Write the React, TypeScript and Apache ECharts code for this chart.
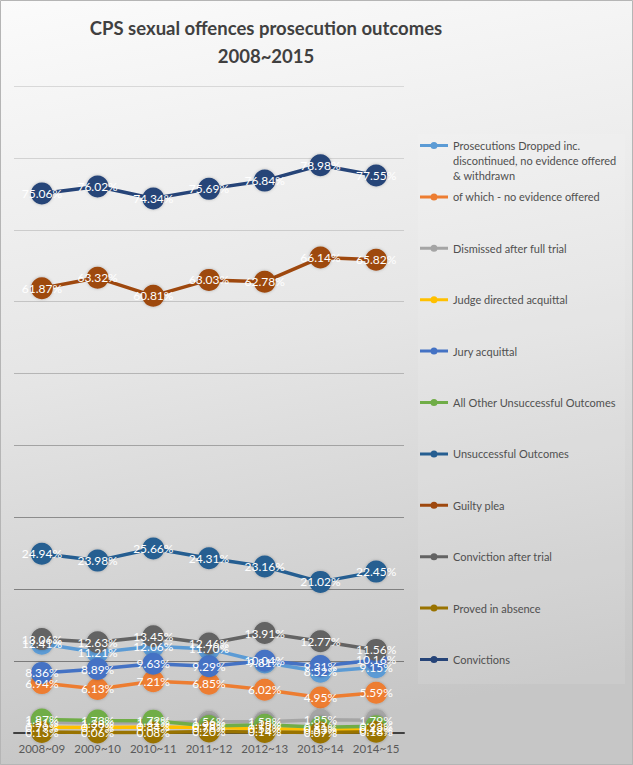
import React, { useEffect, useRef } from "react";
import * as echarts from "echarts";

const categories = ["2008~09", "2009~10", "2010~11", "2011~12", "2012~13", "2013~14", "2014~15"];

const prosecutionsDropped = [12.41, 11.21, 12.06, 11.7, 9.81, 8.52, 9.15];
const noEvidenceOffered = [6.94, 6.13, 7.21, 6.85, 6.02, 4.95, 5.59];
const dismissedAfterTrial = [1.51, 1.38, 1.41, 1.56, 1.58, 1.85, 1.79];
const judgeDirectedAcquittal = [0.79, 0.77, 0.84, 0.78, 0.58, 0.53, 0.42];
const juryAcquittal = [8.36, 8.89, 9.63, 9.29, 10.04, 9.31, 10.16];
const allOtherUnsuccessful = [1.87, 1.73, 1.72, 0.98, 1.15, 0.81, 0.93];
const unsuccessfulOutcomes = [24.94, 23.98, 25.66, 24.31, 23.16, 21.02, 22.45];
const guiltyPlea = [61.87, 63.32, 60.81, 63.03, 62.78, 66.14, 65.82];
const convictionAfterTrial = [13.06, 12.63, 13.45, 12.46, 13.91, 12.77, 11.56];
const provedInAbsence = [0.13, 0.06, 0.08, 0.2, 0.14, 0.07, 0.18];
const convictions = [75.06, 76.02, 74.34, 75.69, 76.84, 78.98, 77.55];

const seriesNames = [
  "Prosecutions Dropped inc. discontinued, no evidence offered & withdrawn",
  "of which - no evidence offered",
  "Dismissed after full trial",
  "Judge directed acquittal",
  "Jury acquittal",
  "All Other Unsuccessful Outcomes",
  "Unsuccessful Outcomes",
  "Guilty plea",
  "Conviction after trial",
  "Proved in absence",
  "Convictions",
];
const seriesData = [
  prosecutionsDropped,
  noEvidenceOffered,
  dismissedAfterTrial,
  judgeDirectedAcquittal,
  juryAcquittal,
  allOtherUnsuccessful,
  unsuccessfulOutcomes,
  guiltyPlea,
  convictionAfterTrial,
  provedInAbsence,
  convictions,
];
const colors = [
  "#5B9BD5", "#ED7D31", "#A5A5A5", "#FFC000", "#4472C4", "#70AD47",
  "#255E91", "#9E480E", "#636363", "#997300", "#264478",
];

const ICON = "path://M0,2H28V5H0Z M10.5,3.5A3.5,3.5,0,1,1,17.5,3.5A3.5,3.5,0,1,1,10.5,3.5Z";

export default function App() {
  const ref = useRef<HTMLDivElement>(null);
  useEffect(() => {
    document.body.style.margin = "0";
    const chart = echarts.init(ref.current!, null, { renderer: "svg" });
    const font = "Lato, 'Noto Sans', sans-serif";
    chart.setOption({
      animation: false,
      backgroundColor: new echarts.graphic.LinearGradient(0, 0, 0.15, 1, [
        { offset: 0, color: "#fbfbfb" },
        { offset: 0.5, color: "#e5e5e5" },
        { offset: 1, color: "#c6c6c6" },
      ]),
      color: colors,
      title: {
        text: "CPS sexual offences prosecution outcomes\n2008~2015",
        left: 261,
        top: 9,
        textAlign: "center",
        textStyle: {
          fontFamily: font,
          fontSize: 18.5,
          fontWeight: "bold",
          color: "#404040",
          lineHeight: 28,
        },
      },
      graphic: [
        {
          type: "rect",
          shape: { x: 418, y: 134, width: 207, height: 550 },
          style: { fill: "rgba(255,255,255,0.1)" },
          silent: true,
          z: -1,
        },
        {
          type: "rect",
          shape: { x: 0.5, y: 0.5, width: 632, height: 764 },
          style: { fill: "none", stroke: "#b5b5b5", lineWidth: 1 },
          silent: true,
        },
        {
          type: "text",
          left: 453,
          top: 153,
          style: {
            text: "discontinued, no evidence offered\n& withdrawn",
            font: "11px " + font,
            fill: "#505050",
            lineHeight: 15,
          },
        },
      ],
      legend: {
        orient: "vertical",
        left: 420,
        top: 138.5,
        padding: 0,
        itemWidth: 28,
        itemHeight: 7,
        itemGap: 37.4,
        icon: ICON,
        data: seriesNames,
        formatter: (n: string) => (n === seriesNames[0] ? "Prosecutions Dropped inc." : n),
        textStyle: {
          fontFamily: font,
          fontSize: 11,
          color: "#505050",
          lineHeight: 14,
        },
      },
      grid: { left: 14, right: 229, top: 86, bottom: 32 },
      xAxis: {
        type: "category",
        data: categories,
        boundaryGap: true,
        axisLine: { lineStyle: { color: "#404040", width: 2 } },
        axisTick: { show: false },
        axisLabel: { interval: 0, fontFamily: font, fontSize: 11.5, color: "#595959", margin: 9 },
      },
      yAxis: {
        type: "value",
        min: 0,
        max: 90,
        interval: 10,
        axisLabel: { show: false },
        axisLine: { show: false },
        axisTick: { show: false },
        splitLine: {
          lineStyle: {
            width: 1,
            color: [
              "#404040", "#7a7a7a", "#808080", "#8c8c8c", "#a3a3a3",
              "#b5b5b5", "#c4c4c4", "#cccccc", "#d2d2d2", "#d8d8d8",
            ],
          },
        },
      },
      series: seriesNames.map((name, i) => ({
        name,
        type: "line",
        data: seriesData[i],
        symbol: "circle",
        symbolSize: 22,
        lineStyle: { width: 3.5, color: colors[i] },
        itemStyle: { color: colors[i], shadowBlur: 3, shadowColor: "rgba(0,0,0,0.25)" },
        label: {
          show: true,
          position: "inside",
          color: "#ffffff",
          fontFamily: font,
          fontSize: 12,
          formatter: (p: any) => p.value.toFixed(2) + "%",
        },
      })),
    });
    return () => chart.dispose();
  }, []);
  return <div ref={ref} style={{ width: 633, height: 765 }} />;
}
